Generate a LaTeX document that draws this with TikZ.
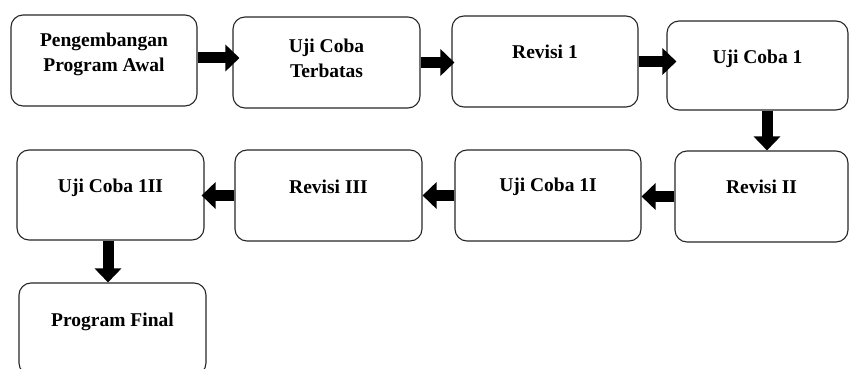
\documentclass[tikz,border=0pt]{standalone}
\usepackage{fontspec}
\setmainfont{Liberation Serif}
\usetikzlibrary{arrows.meta,calc}
\begin{document}
\begin{tikzpicture}[x=1pt,y=-1pt,
  box/.style={draw=black!85, line width=1.1pt, rounded corners=12pt, rectangle,
    inner sep=0pt, minimum width=186pt, minimum height=91pt},
  lbl/.style={font=\bfseries\fontsize{19.5}{24.5}\selectfont, align=center, inner sep=0pt},
  flow/.style={line width=11pt, -{Triangle[length=14pt,width=26pt]}}]
\clip (0,0) rectangle (849,369);
% boxes
\node[box] (b1) at (104,60.5) {};
\node[box, minimum width=187pt] (b2) at (326.5,62.5) {};
\node[box] (b3) at (545,61.5) {};
\node[box, minimum width=181pt, minimum height=89pt] (b4) at (757.5,65.5) {};
\node[box, minimum width=173pt] (b5) at (761.5,196.5) {};
\node[box] (b6) at (548,195.5) {};
\node[box, minimum width=187pt] (b7) at (328.5,195.5) {};
\node[box, minimum width=187pt, minimum height=90pt] (b8) at (110.5,195) {};
\node[box, minimum width=187pt, minimum height=92pt] (b9) at (112.5,329) {};
% labels
\node[lbl] (t1) at ($(b1.north)+(0,40)$) {Pengembangan\\Program Awal};
\node[lbl] (t2) at ($(b2.north)+(0,42)$) {Uji Coba\\Terbatas};
\node[lbl] (t3) at ($(b3.north)+(0,36)$) {Revisi 1};
\node[lbl] (t4) at ($(b4.north)+(0,38)$) {Uji Coba 1};
\node[lbl] (t5) at ($(b5.north)+(0,36)$) {Revisi II};
\node[lbl] (t6) at ($(b6.north)+(0,37)$) {Uji Coba 1I};
\node[lbl] (t7) at ($(b7.north)+(0,37)$) {Revisi III};
\node[lbl] (t8) at ($(b8.north)+(0,38)$) {Uji Coba 1II};
\node[lbl] (t9) at ($(b9.north)+(0,39)$) {Program Final};
% connectors
\coordinate (a1) at ($(b1.east)+(0,-2.5)$);
\draw[flow] (a1) -- ($(a1 -| b2.west)+(7,0)$);
\draw[flow] (b2.east) -- ($(b2.east -| b3.west)+(3,0)$);
\draw[flow] (b3.east) -- ($(b3.east -| b4.west)+(10,0)$);
\coordinate (d1) at ($(b4.south)+(9.5,0)$);
\draw[flow] (d1) -- (d1 |- b5.north);
\draw[flow] (b5.west) -- (b5.west -| b6.east);
\draw[flow] (b6.west) -- (b6.west -| b7.east);
\draw[flow] (b7.west) -- ($(b7.west -| b8.east)+(-3,0)$);
\coordinate (d2) at ($(b8.south)+(-2.5,0)$);
\draw[flow] (d2) -- (d2 |- b9.north);
\end{tikzpicture}
\end{document}
